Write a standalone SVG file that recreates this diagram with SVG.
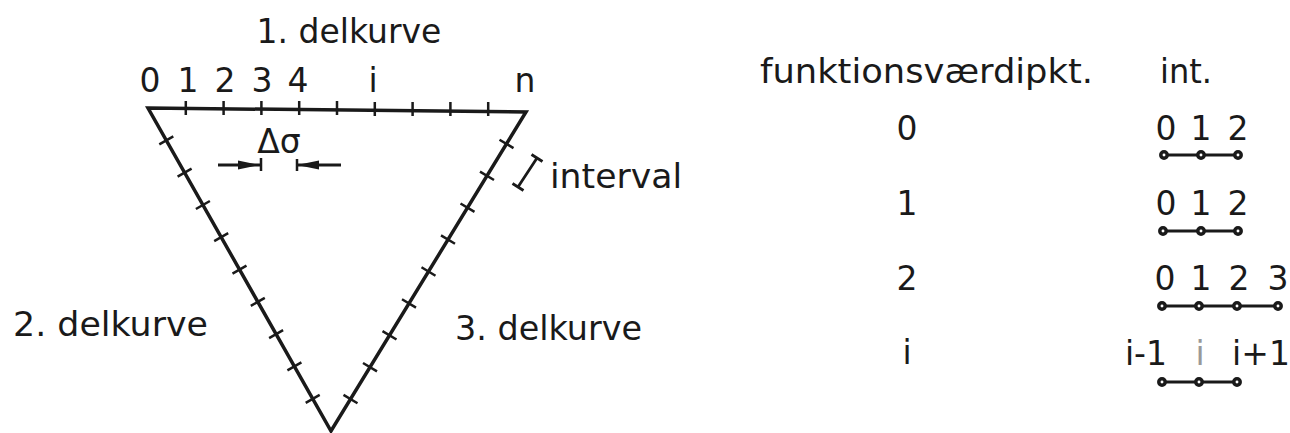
<svg xmlns="http://www.w3.org/2000/svg" width="1290" height="433" viewBox="0 0 1290 433">
<style>
text{font-family:"DejaVu Sans","Liberation Sans",sans-serif;fill:#1a1a1a;font-size:33px}
.m{text-anchor:middle}
.edge{stroke:#1a1a1a;stroke-width:3.5;fill:none;stroke-linejoin:miter}
.tick{stroke:#1a1a1a;stroke-width:2.5;fill:none}
.dl{stroke:#1a1a1a;stroke-width:2.8;fill:none}
.dot{fill:#fff;stroke:#1a1a1a;stroke-width:3.5}
</style>
<defs>
<marker id="ah" viewBox="0 0 22 10" refX="22" refY="5" markerWidth="22" markerHeight="10" markerUnits="userSpaceOnUse" orient="auto">
<path d="M0,0.5 L22,5 L0,9.5 Z" fill="#1a1a1a"/>
</marker>
</defs>
<rect width="1290" height="433" fill="#fff"/>
<g id="triangle">
<path class="edge" d="M148,108 L526,112 L331,431 Z"/>
<path class="tick" d="M185.8,101v14 M223.6,101v14 M261.4,101v14 M299.2,101v14 M337,101v14 M374.8,102v14 M412.6,102v14 M450.4,102v14 M488.2,102v14"/>
<path class="tick" d="M159.3,144.4l14,-8 M177.6,176.6l14,-8 M195.9,209l14,-8 M214.2,241.2l14,-8 M232.5,273.6l14,-8 M250.8,305.8l14,-8 M269.1,338.2l14,-8 M287.4,370.4l14,-8 M305.7,402.8l14,-8"/>
<path class="tick" d="M499.5,139.7l14,8.4 M480,171.6l14,8.4 M460.5,203.5l14,8.4 M441,235.4l14,8.4 M421.5,267.3l14,8.4 M402,299.2l14,8.4 M382.5,331.1l14,8.4 M363,363l14,8.4 M343.5,394.9l14,8.4"/>
</g>
<g id="labels-top">
<text class="m" x="349" y="43">1. delkurve</text>
<text class="m" x="150" y="92">0</text>
<text class="m" x="188" y="92">1</text>
<text class="m" x="225" y="92">2</text>
<text class="m" x="262" y="92">3</text>
<text class="m" x="298" y="92">4</text>
<text class="m" x="373" y="92">i</text>
<text class="m" x="525" y="92">n</text>
</g>
<g id="delta-sigma">
<text class="m" x="279" y="153">Δσ</text>
<path class="dl" d="M218,165 H260" marker-end="url(#ah)"/>
<path class="dl" d="M341,165 H297" marker-end="url(#ah)"/>
<path class="tick" d="M261,158v13 M297,159v12"/>
</g>
<g id="interval">
<path class="dl" d="M537,158 L518,187 M531.5,154.5 L542.5,161.5 M512.5,183.5 L523.5,190.5"/>
<text x="550" y="188" textLength="132" lengthAdjust="spacingAndGlyphs">interval</text>
</g>
<g id="labels-sides">
<text x="13" y="336" textLength="195" lengthAdjust="spacingAndGlyphs">2. delkurve</text>
<text x="455" y="340" textLength="187" lengthAdjust="spacingAndGlyphs">3. delkurve</text>
</g>
<g id="table">
<text x="760" y="83" textLength="333" lengthAdjust="spacingAndGlyphs">funktionsværdipkt.</text>
<text x="1160" y="83" textLength="52" lengthAdjust="spacingAndGlyphs">int.</text>
<text class="m" x="907" y="140">0</text>
<text class="m" x="907" y="215">1</text>
<text class="m" x="907" y="290">2</text>
<text class="m" x="907" y="364">i</text>
</g>
<g id="int-0">
<text class="m" x="1166" y="140">0</text>
<text class="m" x="1201" y="140">1</text>
<text class="m" x="1238" y="140">2</text>
<path class="dl" d="M1164,155 H1238"/>
<circle class="dot" cx="1164" cy="155" r="3.2"/><circle class="dot" cx="1201" cy="155" r="3.2"/><circle class="dot" cx="1238" cy="155" r="3.2"/>
</g>
<g id="int-1">
<text class="m" x="1166" y="215">0</text>
<text class="m" x="1201" y="215">1</text>
<text class="m" x="1238" y="215">2</text>
<path class="dl" d="M1163,231 H1238"/>
<circle class="dot" cx="1163" cy="231" r="3.2"/><circle class="dot" cx="1201" cy="231" r="3.2"/><circle class="dot" cx="1238" cy="231" r="3.2"/>
</g>
<g id="int-2">
<text class="m" x="1165" y="290">0</text>
<text class="m" x="1201" y="290">1</text>
<text class="m" x="1239" y="290">2</text>
<text class="m" x="1278" y="290">3</text>
<path class="dl" d="M1162,306 H1278"/>
<circle class="dot" cx="1162" cy="306" r="3.2"/><circle class="dot" cx="1199" cy="306" r="3.2"/><circle class="dot" cx="1237" cy="306" r="3.2"/><circle class="dot" cx="1278" cy="306" r="3.2"/>
</g>
<g id="int-i">
<text class="m" x="1146" y="365">i-1</text>
<text class="m" x="1200" y="365" style="fill:#999">i</text>
<text class="m" x="1261" y="365">i+1</text>
<path class="dl" d="M1162,382 H1237"/>
<circle class="dot" cx="1162" cy="382" r="3.2"/><circle class="dot" cx="1199" cy="382" r="3.2"/><circle class="dot" cx="1237" cy="382" r="3.2"/>
</g>
</svg>
